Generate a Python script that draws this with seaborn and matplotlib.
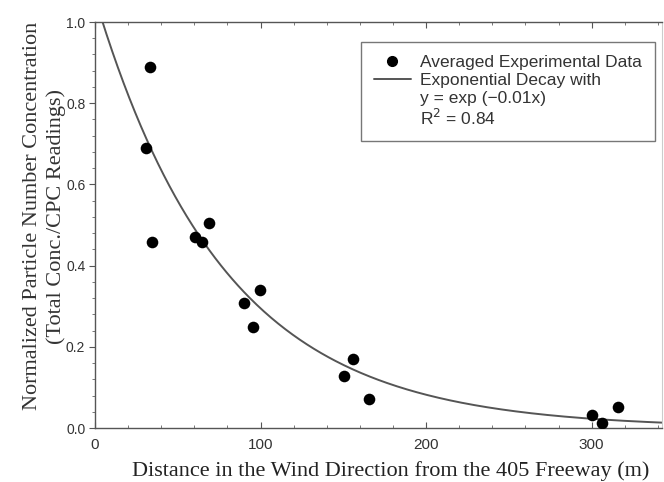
import numpy as np
import pandas as pd
import matplotlib
matplotlib.use("Agg")
import matplotlib.pyplot as plt
import seaborn as sns
from matplotlib.ticker import MultipleLocator
from matplotlib.lines import Line2D

# Data
distance_m = [33.2, 30.8, 34.6, 60.4, 64.8, 68.9, 90.2, 99.7, 95.3, 150.5, 155.7, 165.6, 300.3, 306.2, 316.2]
norm_conc = [0.89, 0.69, 0.457, 0.47, 0.457, 0.504, 0.309, 0.34, 0.25, 0.129, 0.17, 0.071, 0.032, 0.012, 0.051]
fit_amplitude = 1.06
fit_rate = 0.0128
x_ticks = [0, 100, 200, 300]
y_ticks = [0.0, 0.2, 0.4, 0.6, 0.8, 1.0]

sns.set_theme(style="white")
plt.rcParams['font.family'] = ['Liberation Sans', 'DejaVu Sans']

fig = plt.figure(figsize=(6.64, 4.82), dpi=100)
ax = fig.add_axes([95/664, 54/482, 567/664, 406/482])

df = pd.DataFrame({"x": distance_m, "y": norm_conc})
xs = np.linspace(0, 345, 400)
fit_df = pd.DataFrame({"x": xs, "y": fit_amplitude * np.exp(-fit_rate * xs)})

sns.lineplot(data=fit_df, x="x", y="y", ax=ax, color="#555555", linewidth=1.4)
sns.scatterplot(data=df, x="x", y="y", ax=ax, color="black", s=70, edgecolor="black", linewidth=0, zorder=3)

ax.set_xlim(0, 342.5)
ax.set_ylim(0, 1.0)
ax.set_xticks(x_ticks)
ax.set_yticks(y_ticks)
ax.set_xticklabels([str(v) for v in x_ticks])
ax.set_yticklabels([f"{v:.1f}" for v in y_ticks])
ax.xaxis.set_minor_locator(MultipleLocator(20))
ax.yaxis.set_minor_locator(MultipleLocator(0.04))
ax.tick_params(axis="both", which="major", colors="#555555", labelcolor="#333333")
ax.tick_params(axis="x", which="major", labelsize=11, pad=7)
ax.tick_params(axis="y", which="major", labelsize=10, pad=3)
ax.tick_params(axis="x", which="both", direction="in", top=True, bottom=True)
ax.tick_params(axis="y", which="both", direction="out", left=True)
ax.tick_params(which="major", length=4, width=0.8)
ax.tick_params(which="minor", length=2.5, width=0.7, colors="#777777")
for side in ["left", "bottom", "top"]:
    ax.spines[side].set_color("#555555")
    ax.spines[side].set_linewidth(1.0)
ax.spines["right"].set_color("#cccccc")
ax.spines["right"].set_linewidth(0.8)

ax.set_xlabel("Distance in the Wind Direction from the 405 Freeway (m)",
              family=["Liberation Serif", "DejaVu Serif"], fontsize=16, color="#222222")
ax.xaxis.set_label_coords((391 - 95) / 567, (428 - 461) / 406)
ax.set_ylabel("Normalized Particle Number Concentration\n(Total Conc./CPC Readings)",
              family=["Liberation Serif", "DejaVu Serif"], fontsize=16, color="#333333",
              linespacing=1.3)
ax.yaxis.set_label_coords((66 - 95) / 567, (428 - 216) / 406)

blank = Line2D([0], [0], color="none", linestyle="none")
handles = [
    Line2D([0], [0], marker="o", color="black", linestyle="none", markersize=7),
    Line2D([0], [0], color="#555555", linewidth=1.4),
    blank, blank,
]
labels = ["Averaged Experimental Data", "Exponential Decay with",
          "y = exp (\u22120.01x)", "R$^2$ = 0.84"]
leg = ax.legend(handles, labels, loc="upper right", bbox_to_anchor=(560/567, 1 - 20/406),
                frameon=True, fancybox=False, edgecolor="#555555", fontsize=12.5,
                handlelength=2.15, handletextpad=0.52, borderpad=0.75, labelspacing=0.15,
                borderaxespad=0)
leg.get_frame().set_linewidth(1.0)
for t in leg.get_texts():
    t.set_color("#333333")

fig.savefig("out.png", dpi=100)
